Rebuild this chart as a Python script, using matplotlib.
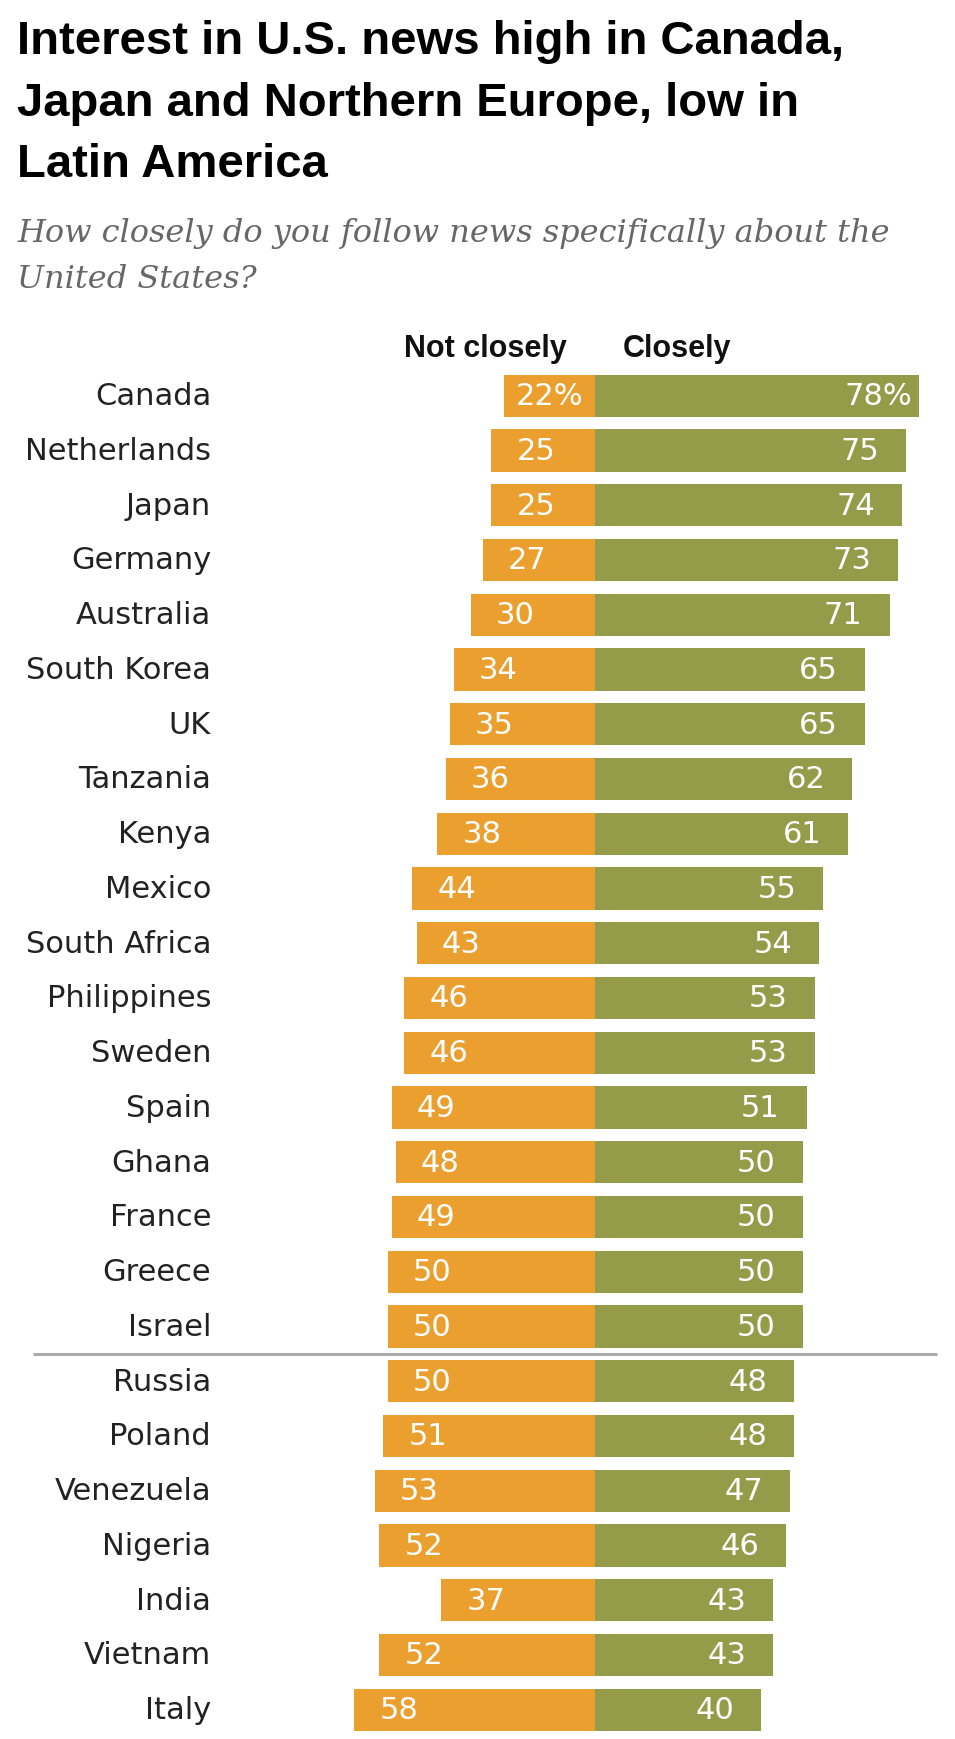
import matplotlib
matplotlib.use('Agg')
import matplotlib.pyplot as plt

# data
countries = ['Canada', 'Netherlands', 'Japan', 'Germany', 'Australia', 'South Korea',
             'UK', 'Tanzania', 'Kenya', 'Mexico', 'South Africa', 'Philippines',
             'Sweden', 'Spain', 'Ghana', 'France', 'Greece', 'Israel',
             'Russia', 'Poland', 'Venezuela', 'Nigeria', 'India', 'Vietnam', 'Italy']
not_closely = [22, 25, 25, 27, 30, 34, 35, 36, 38, 44, 43, 46, 46, 49, 48, 49, 50, 50,
               50, 51, 53, 52, 37, 52, 58]
closely = [78, 75, 74, 73, 71, 65, 65, 62, 61, 55, 54, 53, 53, 51, 50, 50, 50, 50,
           48, 48, 47, 46, 43, 43, 40]
split_after = 'Israel'

title_lines = ['Interest in U.S. news high in Canada,',
               'Japan and Northern Europe, low in',
               'Latin America']
subtitle_lines = ['How closely do you follow news specifically about the',
                  'United States?']
headers = ['Not closely', 'Closely']

ORANGE = '#EA9F2F'
GREEN = '#949C4A'

W, H = 955, 1740
fig = plt.figure(figsize=(W / 100, H / 100), dpi=100)
ax = fig.add_axes([0, 0, 1, 1])
ax.set_axis_off()

px = 4.15           # pixels per percentage point
x0 = 595            # zero line in pixels
row0, row_h = 396.7, 54.75
ax.set_xlim(-x0 / px, (W - x0) / px)
ax.set_ylim((H - row0) / row_h, -row0 / row_h)

rows = list(range(len(countries)))
neg = [-v for v in not_closely]
ax.barh(rows, neg, height=0.77, color=ORANGE, edgecolor='none')
ax.barh(rows, closely, height=0.77, color=GREEN, edgecolor='none')

ytr = ax.get_yaxis_transform()
for i, name in enumerate(countries):
    ax.text(211 / W, i, name, transform=ytr, ha='right', va='center',
            fontsize=22, family='DejaVu Sans', color='#222222')

    first = i == 0
    lab_n = f'{not_closely[i]}%' if first else f'{not_closely[i]}'
    lab_c = f'{closely[i]}%' if first else f'{closely[i]}'
    ax.annotate(lab_n, xy=(-not_closely[i], i), xytext=((12 if first else 25) * 0.72, 0),
                textcoords='offset points', ha='left', va='center',
                fontsize=22, color='white', family='DejaVu Sans')
    ax.annotate(lab_c, xy=(closely[i], i), xytext=(-(6 if first else 27) * 0.72, 0),
                textcoords='offset points', ha='right', va='center',
                fontsize=22, color='white', family='DejaVu Sans')

# separator line below the first group
sep = countries.index(split_after) + 0.5
ax.plot([(33 - x0) / px, (937 - x0) / px], [sep, sep], color='#ababab', lw=2.2,
        solid_capstyle='butt')

# column headers
hy = (356.7 - row0) / row_h
ax.annotate(headers[0], xy=(0, hy), xytext=(-28 * 0.72, 0), textcoords='offset points',
            ha='right', va='baseline', fontsize=22, fontweight='bold',
            family='Liberation Sans', color='#111111')
ax.annotate(headers[1], xy=(0, hy), xytext=(28 * 0.72, 0), textcoords='offset points',
            ha='left', va='baseline', fontsize=22, fontweight='bold',
            family='Liberation Sans', color='#111111')

# title and subtitle
for k, line in enumerate(title_lines):
    fig.text(17 / W, 1 - (54 + 61.5 * k) / H, line, ha='left', va='baseline',
             fontsize=34, fontweight='bold', family='Liberation Sans', color='#000000')
for k, line in enumerate(subtitle_lines):
    fig.text(17 / W, 1 - (242 + 46 * k) / H, line, ha='left', va='baseline',
             fontsize=23, style='italic', family='DejaVu Serif', color='#676767')

fig.savefig('out.png', dpi=100, facecolor='white')
